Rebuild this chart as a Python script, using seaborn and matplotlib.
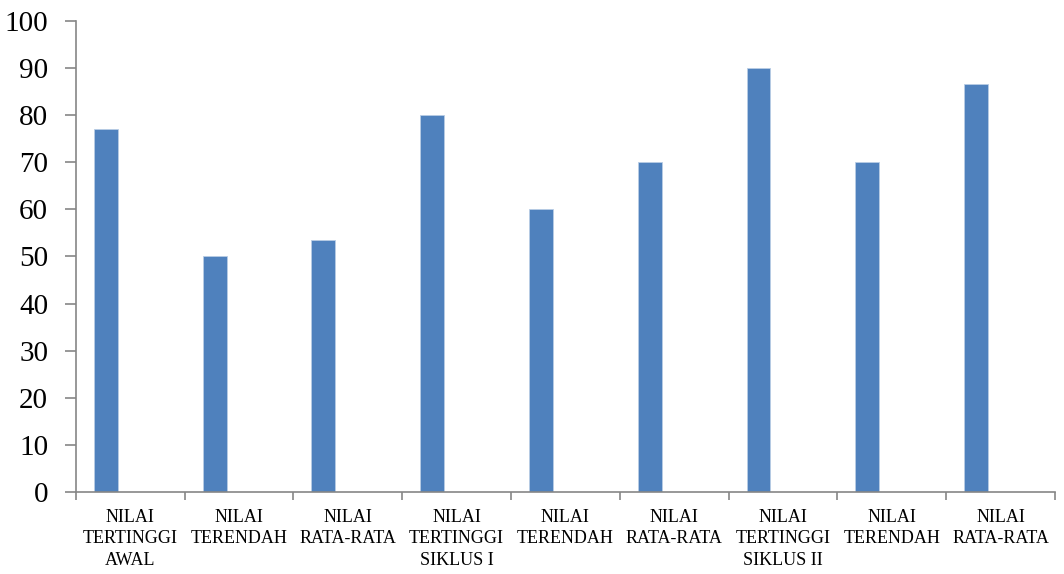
import matplotlib
matplotlib.use("Agg")
import pandas as pd
import seaborn as sns
from matplotlib import pyplot as plt

labels = [
    "NILAI\nTERTINGGI\nAWAL", "NILAI\nTERENDAH", "NILAI\nRATA-RATA",
    "NILAI\nTERTINGGI\nSIKLUS I", "NILAI\nTERENDAH", "NILAI\nRATA-RATA",
    "NILAI\nTERTINGGI\nSIKLUS II", "NILAI\nTERENDAH", "NILAI\nRATA-RATA",
]
values = [77, 50, 53.5, 80, 60, 70, 90, 70, 86.7]
yticks = [0, 10, 20, 30, 40, 50, 60, 70, 80, 90, 100]

df = pd.DataFrame({'pos': range(len(values)), 'nilai': values})

sns.set_style('white')
plt.rcParams['font.family'] = ['Liberation Serif', 'DejaVu Serif']

fig = plt.figure(figsize=(10.64, 5.74), dpi=100)
ax = fig.add_axes([0.0714, 0.1429, 0.92, 0.8205])

sns.barplot(data=df, x='pos', y='nilai', color='#4F81BD', saturation=1,
            width=0.22, edgecolor='#B9CDE5', linewidth=0.6, ax=ax)
# bars sit on the left part of each category slot
for p in ax.patches:
    p.set_x(p.get_x() - 0.225)

ax.set_xlim(-0.5, len(values) - 0.5)
ax.set_ylim(0, 100)
ax.set_yticks(yticks)
ax.set_yticklabels([str(t) for t in yticks], fontsize=21, color='black')
ax.set_xticks(range(len(values)))
ax.set_xticklabels(labels, fontsize=13, linespacing=1.35, color='black')
ax.set_xlabel('')
ax.set_ylabel('')

# boundary ticks between categories on the x axis
ax.set_xticks([i - 0.5 for i in range(len(values) + 1)], minor=True)
ax.tick_params(axis='x', which='major', bottom=True, length=0, pad=12)
ax.tick_params(axis='x', which='minor', bottom=True, length=6, color='#868686',
               width=1.2, direction='out')
ax.tick_params(axis='y', left=True, length=8, color='#868686', width=1.2,
               direction='out', pad=12)

for s in ['top', 'right']:
    ax.spines[s].set_visible(False)
for s in ['left', 'bottom']:
    ax.spines[s].set_color('#868686')
    ax.spines[s].set_linewidth(1.2)

fig.savefig('out.png', dpi=100)
